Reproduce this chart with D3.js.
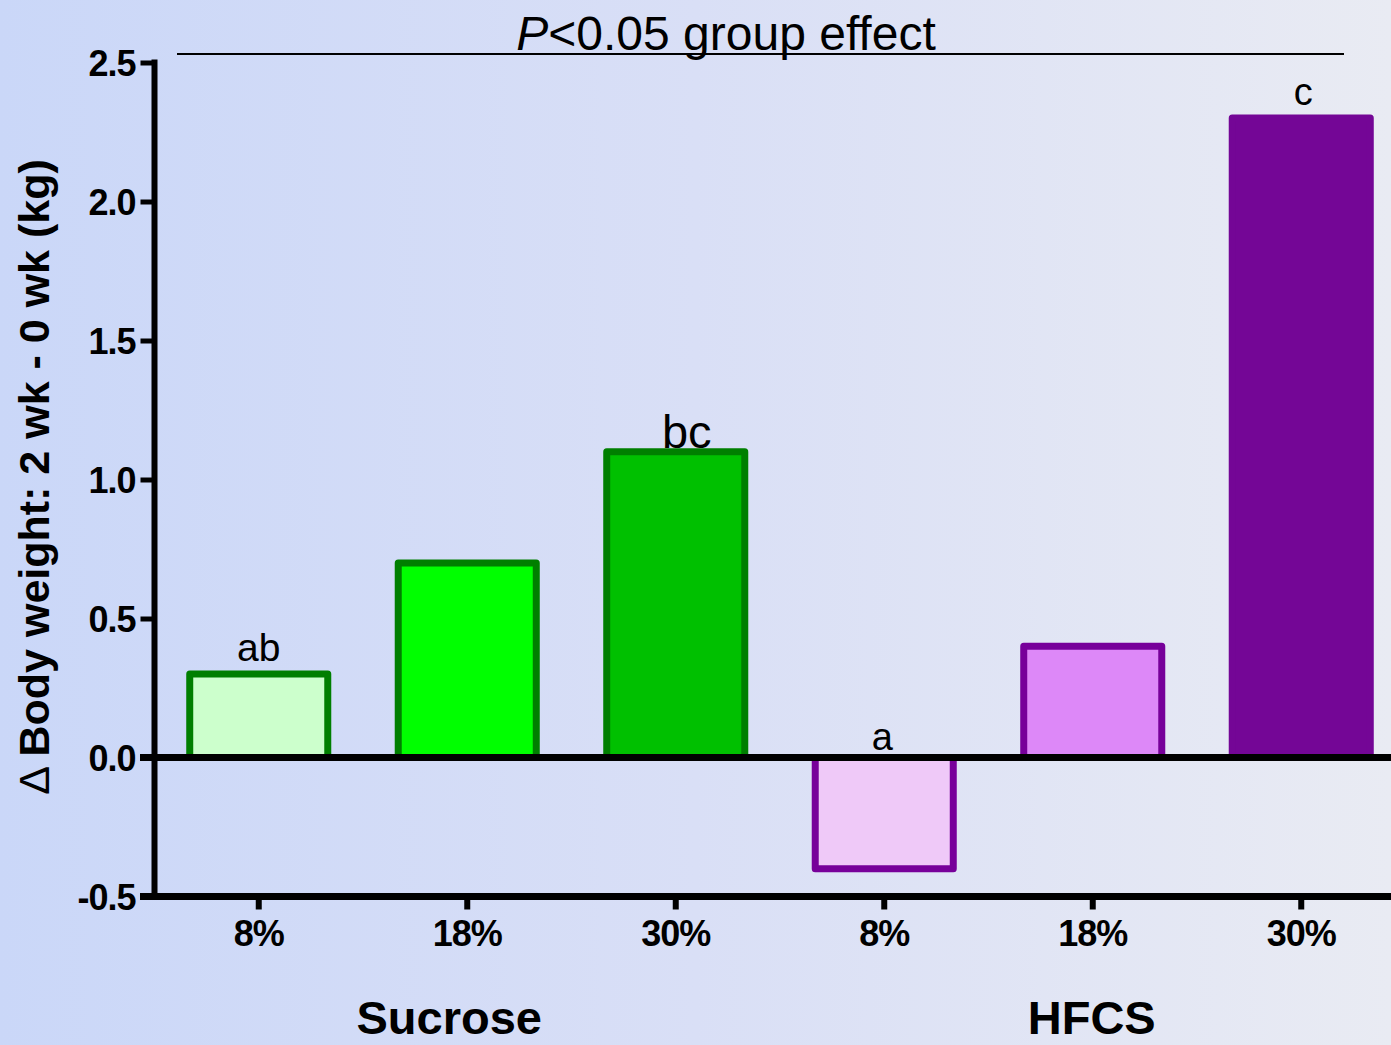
<!DOCTYPE html>
<html>
<head>
<meta charset="utf-8">
<script src="https://cdn.jsdelivr.net/npm/d3@7"></script>
<style>
  html, body { margin: 0; padding: 0; background: #dde3f5; }
  svg { display: block; font-family: "Liberation Sans", Arial, sans-serif; }
</style>
</head>
<body>
<svg id="chart" width="1391" height="1045"></svg>
<script>
// Change in body weight (kg) between week 0 and week 2, by sugar and dose
const groups = ["Sucrose 8%", "Sucrose 18%", "Sucrose 30%", "HFCS 8%", "HFCS 18%", "HFCS 30%"];
const doseLabels = ["8%", "18%", "30%", "8%", "18%", "30%"];
const deltaWeight = [0.30, 0.70, 1.10, -0.40, 0.40, 2.30];
const sigLetters = ["ab", "", "bc", "a", "", "c"];
const yTicks = [-0.5, 0.0, 0.5, 1.0, 1.5, 2.0, 2.5];
const yTickLabels = ["-0.5", "0.0", "0.5", "1.0", "1.5", "2.0", "2.5"];
const sugarNames = ["Sucrose", "HFCS"];

const fills   = ["#ccffcc", "#00ff00", "#00c000", "#efc9f8", "#dd88f8", "#740696"];
const strokes = ["#007f00", "#007f00", "#007f00", "#77009a", "#77009a", "#740696"];

const W = 1391, H = 1045;
const svg = d3.select("#chart");

// soft left-to-right background wash
const defs = svg.append("defs");
const grad = defs.append("linearGradient").attr("id", "bg").attr("x1", 0).attr("x2", 1).attr("y1", 0).attr("y2", 0);
grad.append("stop").attr("offset", "0%").attr("stop-color", "#cad7f8");
grad.append("stop").attr("offset", "50%").attr("stop-color", "#d9dff6");
grad.append("stop").attr("offset", "100%").attr("stop-color", "#e9ebf3");
svg.append("rect").attr("width", W).attr("height", H).attr("fill", "url(#bg)");

const x = d3.scaleBand().domain(groups).range([154.5, 1405.5]).paddingInner(0.338).paddingOuter(0.169);
const y = d3.scaleLinear().domain([-0.5, 2.5]).range([896.5, 62.5]);

// bars
svg.append("g").selectAll("rect").data(groups).join("rect")
  .attr("x", d => x(d))
  .attr("width", x.bandwidth())
  .attr("y", (d, i) => y(Math.max(0, deltaWeight[i])))
  .attr("height", (d, i) => Math.abs(y(deltaWeight[i]) - y(0)))
  .attr("fill", (d, i) => fills[i])
  .attr("stroke", (d, i) => strokes[i])
  .attr("stroke-width", 7)
  .attr("stroke-linejoin", "round");

// y axis
const yAxis = svg.append("g").attr("transform", "translate(154.5,0)")
  .call(d3.axisLeft(y).tickValues(yTicks).tickFormat((d, i) => yTickLabels[i]).tickSize(14).tickPadding(5));
yAxis.select(".domain").attr("stroke", "#000").attr("stroke-width", 6)
  .attr("d", `M0,${y(2.5) - 3}V${y(-0.5) + 3}`);
yAxis.selectAll(".tick line").attr("stroke", "#000").attr("stroke-width", 5);
yAxis.selectAll(".tick text")
  .attr("fill", "#000").attr("font-size", 36).attr("font-weight", "bold")
  .attr("font-family", "Liberation Sans, Arial, sans-serif")
  .attr("dy", "0.35em").attr("letter-spacing", "-1px");

// x axis along the bottom
const xAxis = svg.append("g").attr("transform", `translate(0,${y(-0.5)})`)
  .call(d3.axisBottom(x).tickFormat((d, i) => doseLabels[i]).tickSize(13).tickPadding(11));
xAxis.select(".domain").attr("stroke", "#000").attr("stroke-width", 7)
  .attr("d", `M140,0H${W}`);
xAxis.selectAll(".tick line").attr("stroke", "#000").attr("stroke-width", 6);
xAxis.selectAll(".tick text")
  .attr("fill", "#000").attr("font-size", 36).attr("font-weight", "bold")
  .attr("font-family", "Liberation Sans, Arial, sans-serif")
  .attr("letter-spacing", "-1px");

// zero reference line
svg.append("line")
  .attr("x1", 140).attr("x2", W)
  .attr("y1", y(0)).attr("y2", y(0))
  .attr("stroke", "#000").attr("stroke-width", 7);

// significance letters above each bar
const letterStyle = { "ab": { size: 39, gap: 13 }, "bc": { size: 47, gap: 4, dx: 11 }, "a": { size: 38, gap: 8, dx: -2 }, "c": { size: 38, gap: 13, dx: 2 } };
svg.append("g").selectAll("text").data(groups.filter((d, i) => sigLetters[i])).join("text")
  .each(function (d) {
    const i = groups.indexOf(d);
    const s = letterStyle[sigLetters[i]];
    d3.select(this)
      .attr("x", x(d) + x.bandwidth() / 2 + (s.dx || 0))
      .attr("y", y(Math.max(0, deltaWeight[i])) - s.gap)
      .attr("font-size", s.size)
      .text(sigLetters[i]);
  })
  .attr("text-anchor", "middle").attr("fill", "#000");

// group-effect bracket
svg.append("line").attr("x1", 177).attr("x2", 1344).attr("y1", 54).attr("y2", 54)
  .attr("stroke", "#000").attr("stroke-width", 2);
const pt = svg.append("text").attr("x", 726).attr("y", 50).attr("text-anchor", "middle")
  .attr("font-size", 48).attr("fill", "#000");
pt.append("tspan").attr("font-style", "italic").text("P");
pt.append("tspan").text("<0.05 group effect");

// sugar labels
const sugarCenters = [x("Sucrose 18%") + x.bandwidth() / 2 - 18, x("HFCS 18%") + x.bandwidth() / 2 - 1];
svg.append("g").selectAll("text").data(sugarNames).join("text")
  .attr("x", (d, i) => sugarCenters[i])
  .attr("y", 1034)
  .attr("text-anchor", "middle")
  .attr("font-size", 47).attr("font-weight", "bold").attr("fill", "#000")
  .text(d => d);

// y axis title
const yt = svg.append("text")
  .attr("transform", "translate(49,477) rotate(-90)")
  .attr("text-anchor", "middle")
  .attr("font-size", 43).attr("font-weight", "bold").attr("fill", "#000");
yt.append("tspan").attr("font-weight", "normal").text("Δ ");
yt.append("tspan").text("Body weight: 2 wk - 0 wk (kg)");
</script>
</body>
</html>
